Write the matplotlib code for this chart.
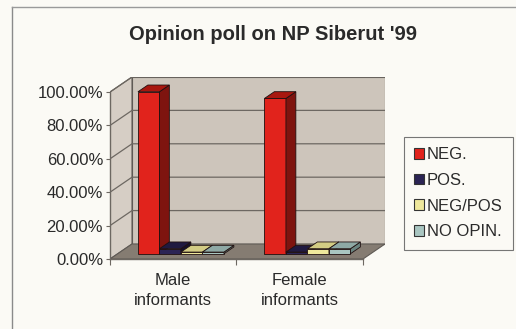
import matplotlib
matplotlib.use("Agg")
import matplotlib.pyplot as plt
from matplotlib.patches import Polygon, Patch
from matplotlib.lines import Line2D

plt.rcParams['font.family'] = ['Liberation Sans', 'DejaVu Sans']

# values (percent of informants)
groups = ["Male\ninformants", "Female\ninformants"]
series = ["NEG.", "POS.", "NEG/POS", "NO OPIN."]
neg = [97, 93]
pos = [3, 1]
neg_pos = [1, 3]
no_opin = [1, 3]
yticks = [0, 20, 40, 60, 80, 100]
ytick_labels = ["0.00%", "20.00%", "40.00%", "60.00%", "80.00%", "100.00%"]
title = "Opinion poll on NP Siberut '99"

values = [neg, pos, neg_pos, no_opin]
face = ["#e1231c", "#2b2454", "#efe89c", "#a9c6c1"]
side = ["#7e140f", "#15112c", "#9a955f", "#6a8480"]
top = ["#a8170f", "#201a40", "#d3cc84", "#8ea9a5"]

# fake 3d box depth (x in category units, y in percent units)
DX = 0.174
DY = 9.0
f0, f1 = 0.35, 0.8      # bar depth range inside the box
w = 0.17                # bar width
m = (1 - len(series) * w) / 2

fig = plt.figure(figsize=(5.16, 3.29), dpi=100)
fig.patch.set_facecolor('#fbfaf5')

ax = fig.add_axes([110/516, 1 - 259/329, 275/516, 182/329])
ax.patch.set_visible(False)
ax.set_xlim(0, len(groups) + DX)
ax.set_ylim(0, 100 + DY)

n = len(groups)
edge = '#5f5a55'
# walls and floor
ax.add_patch(Polygon([(DX, DY), (n + DX, DY), (n + DX, 100 + DY), (DX, 100 + DY)],
                     fc='#cdc5bb', ec=edge, lw=0.8, zorder=0))
ax.add_patch(Polygon([(0, 0), (DX, DY), (DX, 100 + DY), (0, 100)],
                     fc='#d6cec5', ec=edge, lw=0.8, zorder=0))
ax.add_patch(Polygon([(0, 0), (n, 0), (n + DX, DY), (DX, DY)],
                     fc='#857c72', ec=edge, lw=0.8, zorder=1))
for v in yticks[1:]:
    ax.plot([0, DX, n + DX], [v, v + DY, v + DY], color='#6d6862', lw=0.9, zorder=0.5)

# bars
bdx = (f1 - f0) * DX
bdy = (f1 - f0) * DY
y0 = f0 * DY
k = 0
for c in range(n):
    for i, vals in enumerate(values):
        v = vals[c]
        x = c + m + i * w + f0 * DX
        z = 3 + k * 0.1
        k += 1
        ax.bar(x, v, width=w, bottom=y0, align='edge', color=face[i],
               edgecolor='#201010', lw=0.6, zorder=z)
        ax.add_patch(Polygon([(x + w, y0), (x + w + bdx, y0 + bdy),
                              (x + w + bdx, y0 + v + bdy), (x + w, y0 + v)],
                             fc=side[i], ec='#201010', lw=0.6, zorder=z))
        ax.add_patch(Polygon([(x, y0 + v), (x + w, y0 + v),
                              (x + w + bdx, y0 + v + bdy), (x + bdx, y0 + v + bdy)],
                             fc=top[i], ec='#201010', lw=0.6, zorder=z))

# axes
for s in ['top', 'right']:
    ax.spines[s].set_visible(False)
ax.spines['left'].set_bounds(0, 100)
ax.spines['bottom'].set_bounds(0, n)
for s in ['left', 'bottom']:
    ax.spines[s].set_color('#6d6862')
    ax.spines[s].set_linewidth(1.0)
ax.set_yticks(yticks)
ax.set_yticklabels(ytick_labels, fontsize=12, color='#2a2a2a')
ax.tick_params(axis='y', length=3, pad=2, color='#6d6862')
ax.set_xticks(range(n + 1))
ax.set_xticklabels([])
ax.set_xticks([c + 0.5 for c in range(n)], minor=True)
ax.set_xticklabels(groups, minor=True, fontsize=12, color='#2a2a2a', linespacing=1.4)
ax.tick_params(axis='x', which='major', length=4, color='#6d6862')
ax.tick_params(axis='x', which='minor', length=0, pad=10)

fig.text(273/516, 1 - 34/329, title, ha='center', va='center',
         fontsize=14.5, fontweight='bold', color='#2a2a2a')

handles = [Patch(fc=face[i], ec='#333333', lw=0.8) for i in range(len(series))]
leg = fig.legend(handles, series, loc='upper left',
                 bbox_to_anchor=(404/516, 1 - 137/329), borderaxespad=0,
                 fontsize=12, handlelength=0.6, handleheight=0.6,
                 handletextpad=0.15, labelspacing=0.64, borderpad=0.62,
                 frameon=True, fancybox=False)
leg.get_frame().set_edgecolor('#555555')
leg.get_frame().set_facecolor('#fbfaf5')
leg.get_frame().set_linewidth(0.8)
for t in leg.get_texts():
    t.set_color('#2a2a2a')

# chart area border (partly visible in the scan)
fig.add_artist(Line2D([12/516, 12/516], [0, 1 - 7/329], transform=fig.transFigure,
                      color='#8a8a8a', lw=1))
fig.add_artist(Line2D([12/516, 1], [1 - 7/329, 1 - 7/329], transform=fig.transFigure,
                      color='#9a9a9a', lw=1))

fig.savefig("out.png", dpi=100, facecolor=fig.get_facecolor())
